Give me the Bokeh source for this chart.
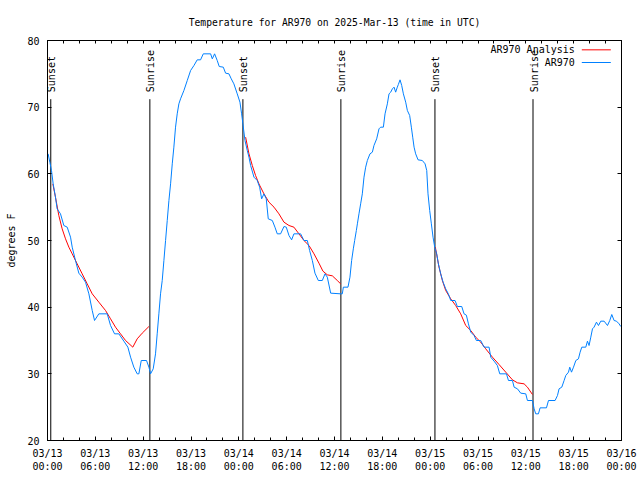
import math
from bokeh.plotting import figure
from bokeh.models import Range1d, FixedTicker, LinearAxis, ColumnDataSource, Label
from bokeh.embed import file_html
from bokeh.resources import INLINE
from bokeh.core.properties import value

# ---------------- data ----------------
title_text = "Temperature for AR970 on 2025-Mar-13 (time in UTC)"
y_label = "degrees F"
obs_name = "AR970"
ana_name = "AR970 Analysis"

# x is hours since 03/13 00:00 UTC
tick_hours = [0, 6, 12, 18, 24, 30, 36, 42, 48, 54, 60, 66, 72]
tick_labels = ["03/13\n00:00", "03/13\n06:00", "03/13\n12:00", "03/13\n18:00",
               "03/14\n00:00", "03/14\n06:00", "03/14\n12:00", "03/14\n18:00",
               "03/15\n00:00", "03/15\n06:00", "03/15\n12:00", "03/15\n18:00",
               "03/16\n00:00"]
minor_tick_hours = list(range(0, 73, 2))
y_ticks = [20, 30, 40, 50, 60, 70, 80]

obs_hours = [0.08, 0.30, 0.50, 0.71, 1.00, 1.21, 1.63, 2.05, 2.47, 2.89, 3.10, 3.51, 3.93,
             4.35, 4.77, 5.19, 5.61, 5.90, 6.44, 7.49, 7.91, 8.41, 8.95, 9.58, 10.08, 10.42,
             10.83, 11.25, 11.46, 11.76, 12.42, 12.72, 12.93, 13.26, 13.55, 13.76, 13.97,
             14.18, 14.39, 14.60, 14.81, 15.02, 15.23, 15.44, 15.65, 15.85, 16.06, 16.27,
             16.48, 16.69, 17.11, 17.53, 17.95, 18.37, 18.78, 19.20, 19.54, 20.46, 20.67,
             20.96, 21.29, 21.54, 22.05, 22.34, 22.76, 23.05, 23.38, 23.80, 24.14, 24.35,
             24.51, 24.77, 25.06, 25.27, 25.48, 25.90, 26.31, 26.61, 26.86, 27.15, 27.44,
             27.69, 28.20, 28.53, 28.82, 29.24, 29.66, 29.95, 30.29, 30.62, 30.91, 31.75,
             32.17, 32.59, 32.88, 33.22, 33.55, 33.97, 34.47, 34.81, 35.10, 35.52, 36.77,
             36.98, 37.11, 37.69, 37.94, 38.15, 38.36, 38.53, 38.74, 38.87, 39.07, 39.28,
             39.49, 39.70, 39.91, 40.12, 40.45, 40.75, 40.95, 41.29, 41.58, 41.79, 42.13,
             42.34, 42.63, 42.84, 43.05, 43.26, 43.47, 43.67, 43.88, 44.01, 44.22, 44.43,
             44.64, 44.93, 45.14, 45.43, 45.64, 45.81, 45.98, 46.18, 46.48, 47.02, 47.36,
             47.57, 47.73, 47.94, 48.15, 48.36, 48.57, 48.82, 49.03, 49.32, 49.62, 49.95,
             50.28, 50.58, 51.12, 51.41, 51.96, 52.25, 52.54, 52.80, 53.09, 53.51, 53.80,
             54.34, 54.76, 55.39, 55.60, 56.02, 56.43, 56.73, 57.57, 57.82, 58.32, 58.53,
             58.95, 59.36, 59.99, 60.20, 60.83, 61.04, 61.24, 61.58, 61.79, 62.59, 62.84,
             63.67, 63.97, 64.17, 64.51, 64.80, 65.01, 65.35, 65.51, 65.73, 65.98, 66.27,
             66.60, 66.81, 67.02, 67.52, 67.73, 67.93, 68.15, 68.36, 68.56, 68.86, 69.11,
             69.40, 69.82, 70.24, 70.53, 70.78, 71.07, 71.37, 71.70, 71.91]
obs_temps = [63, 61.7, 60.5, 58.5, 56.5, 54.75, 54, 52.25, 52, 50.5, 49, 47, 45.1,
             44.5, 43.75, 42, 39.5, 38, 39, 39, 37.25, 36, 36, 34.9, 34, 32.5,
             31, 30, 30, 32, 32, 31, 30, 30.75, 33, 36, 39,
             42, 44, 47, 50, 53, 56, 58.5, 61.5, 64, 67, 69,
             70.5, 71.25, 72.5, 74, 75.5, 76.25, 77.1, 77.1, 78, 78, 77.25,
             78, 77, 76.1, 76, 75.1, 75, 74.25, 73.5, 72, 70.75, 69,
             67.5, 65, 63.5, 62.5, 61.25, 59.5, 59, 58, 56.25, 57, 56.25,
             53.25, 53, 52, 51, 51, 52.1, 52, 50.75, 50.1, 51, 51,
             50, 50, 48.5, 47, 45.1, 44, 44, 45, 44.5, 42.1, 42,
             42, 43, 43, 44.5, 47, 48.75, 50, 51.5, 52.5, 54, 55.5,
             57, 59.5, 61, 62, 63, 63.25, 64.25, 65.25, 66.75, 67, 67,
             69, 70.5, 72, 72.25, 72.75, 73, 72.25, 73, 73.4, 74.1, 73.25,
             72, 70.75, 69.5, 68.75, 67, 65.5, 64, 63, 62.1, 62, 61.5,
             60.5, 57, 54.5, 52.5, 50.5, 49, 48, 46.5, 45, 43.75, 42.75,
             42, 41, 41, 40.1, 40.1, 39, 38.8, 37.5, 36.25, 35.75, 35,
             35, 34, 34, 32.5, 31.9, 31.25, 30, 30, 29, 29, 28,
             27.75, 27.1, 27, 26, 26, 24.75, 24, 24, 24.9, 24.9, 26,
             26, 26.75, 27.75, 28, 29, 29.75, 30.25, 31, 30.25, 31, 32,
             32.25, 33.25, 34, 34, 34.9, 34.25, 35.5, 36.75, 37, 37.75, 37.25,
             37.9, 37.9, 37.25, 38, 38.9, 38, 37.9, 37.5, 37.1]

ana1_hours = [0.67, 1.00, 1.42, 1.84, 2.26, 2.68, 3.10, 3.72, 4.35, 4.98, 5.61, 6.44,
              7.28, 7.91, 8.53, 9.16, 9.79, 10.70, 11.25, 11.88, 12.72]
ana1_temps = [58.5, 56.5, 53.75, 51.75, 50.25, 49, 48, 46.5, 45, 43.5, 42, 40.75,
              39.5, 38.25, 37, 36, 35, 34, 35.25, 36.1, 37.1]
ana2_hours = [24.85, 25.27, 25.69, 26.10, 26.52, 27.15, 27.78, 28.41, 29.03, 29.66,
              30.29, 30.91, 31.54, 32.17, 32.80, 33.43, 34.05, 34.55, 35.10, 35.73,
              36.35, 36.77]
ana2_temps = [65.5, 63, 61.25, 59.75, 58.5, 57, 55.75, 55, 54, 52.75,
              52.25, 52, 51, 50, 49.25, 48, 46.6, 45.4, 44.85, 44.7,
              44, 43.5]
ana3_hours = [48.65, 49.11, 49.53, 49.95, 50.58, 51.20, 51.83, 52.46, 53.09, 53.71,
              54.34, 54.97, 55.81, 56.64, 57.48, 58.32, 58.95, 59.78, 60.20, 60.83]
ana3_temps = [49, 46, 44, 42.5, 41.25, 40.25, 39, 37.25, 36.5, 35.5,
              34.75, 33.75, 32.5, 31.4, 30.25, 29.1, 28.65, 28.5, 28, 26.9]

sun_event_hours = [0.41, 12.84, 24.51, 36.8, 48.6, 60.9]
sun_event_names = ["Sunset", "Sunrise", "Sunset", "Sunrise", "Sunset", "Sunrise"]
sun_line_top = 71.2

# ---------------- styling ----------------
FONT = "DejaVu Sans Mono"
FS = "10px"
RED = "#ff0000"
BLUE = "#0080ff"

p = figure(width=640, height=480, output_backend="svg", toolbar_location=None,
           x_range=Range1d(0, 72), y_range=Range1d(20, 80),
           min_border_left=47, min_border_right=19, min_border_top=40, min_border_bottom=40,
           x_axis_type=None, y_axis_type=None)
p.background_fill_color = "white"
p.border_fill_color = "white"
p.outline_line_color = "black"
p.outline_line_width = 1
p.grid.visible = False

p.title.text = title_text
p.title.align = "center"
p.title.text_font = FONT
p.title.text_font_size = "9.7px"
p.title.text_font_style = "normal"
p.title.text_color = "black"
p.title.standoff = 25

# bottom axis
xb = LinearAxis(ticker=FixedTicker(ticks=tick_hours, minor_ticks=minor_tick_hours))
xb.major_label_overrides = {h: lab for h, lab in zip(tick_hours, tick_labels)}
xb.major_tick_in = 4
xb.major_tick_out = 0
xb.minor_tick_in = 3
xb.minor_tick_out = 0
xb.major_label_standoff = 7
xb.major_label_text_font = FONT
xb.major_label_text_font_size = FS
xb.major_label_text_color = "black"
xb.axis_line_color = "black"
p.add_layout(xb, "below")

# top axis (mirror ticks)
xt = LinearAxis(ticker=FixedTicker(ticks=[], minor_ticks=minor_tick_hours))
xt.minor_tick_in = 3
xt.minor_tick_out = 0
xt.axis_line_color = "black"
p.add_layout(xt, "above")

# left axis
yl = LinearAxis(ticker=FixedTicker(ticks=y_ticks, minor_ticks=[]))
yl.major_tick_in = 4
yl.major_tick_out = 0
yl.minor_tick_line_color = None
yl.major_label_standoff = 8
yl.major_label_text_font = FONT
yl.major_label_text_font_size = FS
yl.major_label_text_color = "black"
yl.axis_label = y_label
yl.axis_label_text_font = FONT
yl.axis_label_text_font_size = FS
yl.axis_label_text_font_style = "normal"
yl.axis_label_text_color = "black"
yl.axis_label_standoff = 7
yl.axis_line_color = "black"
p.add_layout(yl, "left")

# right axis (mirror ticks)
yr = LinearAxis(ticker=FixedTicker(ticks=[], minor_ticks=y_ticks))
yr.minor_tick_in = 4
yr.minor_tick_out = 0
yr.axis_line_color = "black"
p.add_layout(yr, "right")

# sunrise / sunset lines
sun_src = ColumnDataSource(dict(x=sun_event_hours,
                                y0=[20] * len(sun_event_hours),
                                y1=[sun_line_top] * len(sun_event_hours),
                                name=sun_event_names))
p.segment(x0="x", y0="y0", x1="x", y1="y1", source=sun_src, line_color="black", line_width=1)
p.text(x="x", y="y1", text="name", source=sun_src, angle=math.pi / 2,
       text_align="left", text_baseline="middle", x_offset=1, y_offset=-7,
       text_font=value(FONT), text_font_size=value(FS), text_color="black")

# analysis (red) and observations (blue)
for hh, tt in ((ana1_hours, ana1_temps), (ana2_hours, ana2_temps), (ana3_hours, ana3_temps)):
    p.line(hh, tt, line_color=RED, line_width=1)
p.line(obs_hours, obs_temps, line_color=BLUE, line_width=1)

# legend (gnuplot style: text then sample line)
leg_text_x = 66.14
leg_line_x0, leg_line_x1 = 67.02, 70.66
leg_y = [78.6, 76.7]
for yy, name, col in zip(leg_y, [ana_name, obs_name], [RED, BLUE]):
    p.add_layout(Label(x=leg_text_x, y=yy, text=name, text_align="right",
                       text_baseline="middle", text_font=FONT, text_font_size=FS,
                       text_color="black"))
    p.segment(x0=[leg_line_x0], y0=[yy], x1=[leg_line_x1], y1=[yy], line_color=col, line_width=1)

open("out.html", "w").write(file_html(p, INLINE))
